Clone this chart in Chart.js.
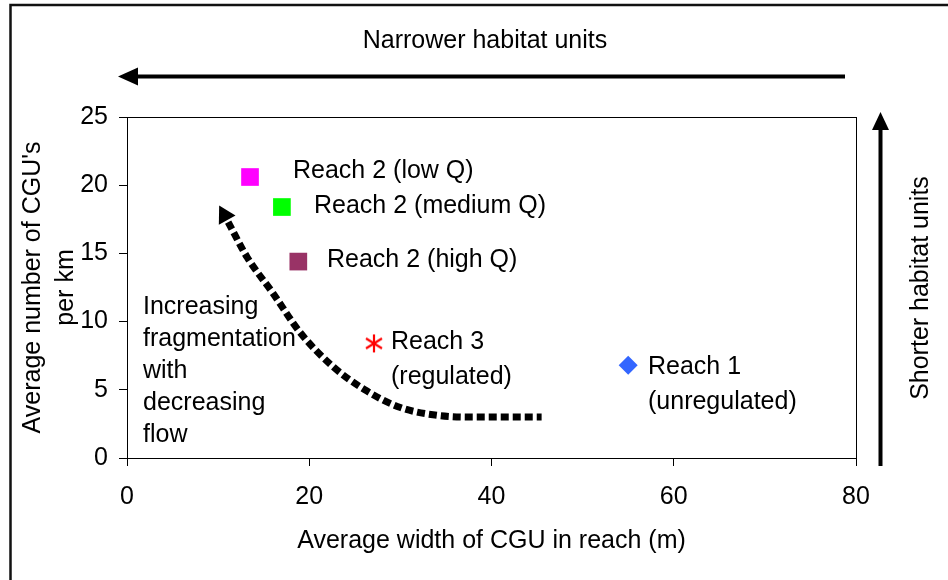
<!DOCTYPE html>
<html>
<head>
<meta charset="utf-8">
<script src="https://cdn.jsdelivr.net/npm/chart.js@4.4.0/dist/chart.umd.min.js"></script>
<style>
    html, body { margin: 0; padding: 0; background: #fff; }
    #wrap { position: relative; width: 948px; height: 580px; }
</style>
</head>
<body>
<div id="wrap"><canvas id="chart" width="948" height="580"></canvas></div>
<script>
const xTicks = [0, 20, 40, 60, 80]
const yTicks = [0, 5, 10, 15, 20, 25]

// the five reaches
const reachNames = ['Reach 1 (unregulated)', 'Reach 2 (low Q)', 'Reach 2 (medium Q)', 'Reach 2 (high Q)', 'Reach 3 (regulated)']
const reachWidth = [55.0, 13.5, 17.0, 18.8, 27.1]
const reachCount = [6.8, 20.6, 18.4, 14.4, 8.4]
const reachColors = ['#3366ff', '#ff00ff', '#00ff00', '#993366', '#ff0000']

// dotted trend arrow
const trendWidth = [11.1, 13.2, 16.0, 19.0, 22.6, 26.1, 30.0, 33.8, 37.7, 45.5]
const trendCount = [17.3, 14.7, 12.1, 9.2, 6.7, 5.0, 3.7, 3.15, 3.0, 3.0]
const headWidth = [10.7]
const headCount = [17.8]

const FONT = "'Liberation Sans', Arial, sans-serif"

function makeAsterisk(color) {
    const c = document.createElement('canvas')
    c.width = 20
    c.height = 20
    const g = c.getContext('2d')
    g.strokeStyle = color
    g.lineWidth = 2.2
    g.beginPath()
    g.moveTo(10, 1); g.lineTo(10, 19)
    g.moveTo(2, 5); g.lineTo(18, 15)
    g.moveTo(18, 5); g.lineTo(2, 15)
    g.stroke()
    return c
}

const reachStyles = ['rectRot', 'rect', 'rect', 'rect', makeAsterisk('#ff0000')]
const reachRadius = [9.5, 12.5, 12.5, 12.5, 10]

// texts drawn around the plot
const notes = [
    { text: 'Reach 2 (low Q)', x: 293, y: 171 },
    { text: 'Reach 2 (medium Q)', x: 314, y: 206 },
    { text: 'Reach 2 (high Q)', x: 327, y: 260 },
    { text: 'Reach 3', x: 391, y: 342 },
    { text: '(regulated)', x: 391, y: 377 },
    { text: 'Reach 1', x: 648, y: 367 },
    { text: '(unregulated)', x: 648, y: 402 },
    { text: 'Increasing', x: 143, y: 307 },
    { text: 'fragmentation', x: 143, y: 339 },
    { text: 'with', x: 143, y: 371 },
    { text: 'decreasing', x: 143, y: 403 },
    { text: 'flow', x: 143, y: 435 }
]

const decorations = {
    id: 'decorations',
    afterDraw(chart) {
        const ctx = chart.ctx
        const a = chart.chartArea
        ctx.save()

        // outer frame
        ctx.strokeStyle = '#111'
        ctx.lineWidth = 2.5
        ctx.beginPath()
        ctx.moveTo(10.5, 580); ctx.lineTo(10.5, 5); ctx.lineTo(948, 5)
        ctx.stroke()

        // plot box
        ctx.lineWidth = 1
        ctx.strokeStyle = '#000'
        ctx.strokeRect(a.left + 0.5, a.top + 0.5, a.right - a.left, a.bottom - a.top)

        // horizontal arrow
        ctx.fillStyle = '#000'
        ctx.lineWidth = 4
        ctx.beginPath()
        ctx.moveTo(845, 76.5); ctx.lineTo(135, 76.5)
        ctx.stroke()
        ctx.beginPath()
        ctx.moveTo(118, 76.5); ctx.lineTo(138, 67.5); ctx.lineTo(138, 85.5)
        ctx.closePath()
        ctx.fill()

        // vertical arrow
        ctx.beginPath()
        ctx.moveTo(880.5, 466); ctx.lineTo(880.5, 126)
        ctx.stroke()
        ctx.beginPath()
        ctx.moveTo(880.5, 112); ctx.lineTo(872, 130); ctx.lineTo(889, 130)
        ctx.closePath()
        ctx.fill()

        ctx.font = '25px ' + FONT
        ctx.fillStyle = '#000'
        ctx.textBaseline = 'middle'
        ctx.textAlign = 'center'
        ctx.fillText('Narrower habitat units', 485, 41)

        ctx.save()
        ctx.translate(921, 288)
        ctx.rotate(-Math.PI / 2)
        ctx.fillText('Shorter habitat units', 0, 0)
        ctx.restore()

        ctx.textAlign = 'left'
        notes.forEach((n) => {
            ctx.fillText(n.text, n.x, n.y)
        })
        ctx.restore()
    }
}

const trendData = trendWidth.map((x, i) => ({ x: x, y: trendCount[i] }))
const headData = headWidth.map((x, i) => ({ x: x, y: headCount[i] }))
const reachData = reachWidth.map((x, i) => ({ x: x, y: reachCount[i] }))

var ctx = document.getElementById('chart').getContext('2d')
var myChart = new Chart(ctx, {
    type: 'scatter',
    data: {
        datasets: [{
            label: 'Trend',
            type: 'line',
            data: trendData,
            borderColor: '#000',
            borderWidth: 7,
            borderDash: [8, 4],
            borderCapStyle: 'butt',
            pointRadius: 0,
            cubicInterpolationMode: 'monotone',
            fill: false
        }, {
            label: 'Arrow head',
            data: headData,
            pointStyle: 'triangle',
            rotation: -29,
            pointRadius: 11,
            backgroundColor: '#000',
            borderColor: '#000',
            borderWidth: 0
        }, {
            label: 'Reaches',
            data: reachData,
            pointStyle: reachStyles,
            pointRadius: reachRadius,
            backgroundColor: reachColors,
            borderColor: reachColors,
            borderWidth: 0
        }]
    },
    options: {
        responsive: false,
        animation: false,
        events: [],
        layout: { padding: { left: 0, top: 117, right: 92, bottom: 0 } },
        plugins: {
            legend: { display: false },
            tooltip: { enabled: false }
        },
        scales: {
            x: {
                type: 'linear',
                min: 0,
                max: 80,
                afterBuildTicks: (scale) => { scale.ticks = xTicks.map(v => ({ value: v })) },
                afterFit: (scale) => { scale.height = 122 },
                ticks: { color: '#000', font: { family: FONT, size: 25 }, padding: 16 },
                grid: { drawOnChartArea: false, tickLength: 8, color: '#000' },
                border: { color: '#000' },
                title: {
                    display: true,
                    text: 'Average width of CGU in reach (m)',
                    color: '#000',
                    font: { family: FONT, size: 25 },
                    padding: { top: 0, bottom: 24 }
                }
            },
            y: {
                type: 'linear',
                min: 0,
                max: 25,
                afterBuildTicks: (scale) => { scale.ticks = yTicks.map(v => ({ value: v })) },
                afterFit: (scale) => { scale.width = 127 },
                ticks: { color: '#000', font: { family: FONT, size: 25 }, padding: 11 },
                grid: { drawOnChartArea: false, tickLength: 8, color: '#000' },
                border: { color: '#000' },
                title: {
                    display: true,
                    text: ["Average number of CGU's", 'per km'],
                    color: '#000',
                    font: { family: FONT, size: 25, lineHeight: 1.3 },
                    padding: { top: 17, bottom: 0 }
                }
            }
        }
    },
    plugins: [decorations]
});
</script>
</body>
</html>
